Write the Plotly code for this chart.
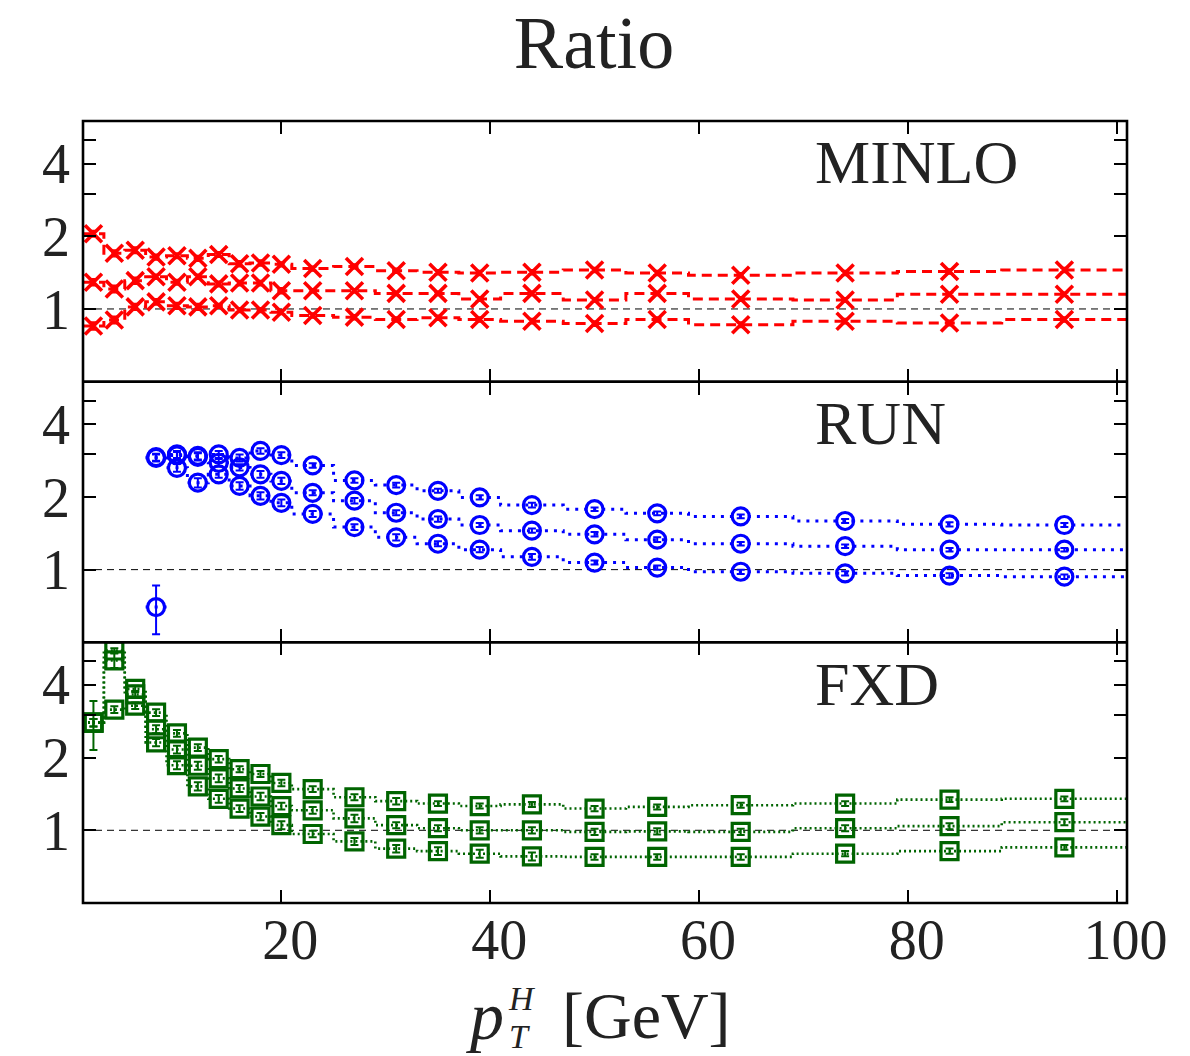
import plotly.graph_objects as go
from plotly.subplots import make_subplots

# ---------------- data ----------------
bin_edges = [1, 3, 5, 7, 9, 11, 13, 15, 17, 19, 21, 25, 29, 33, 37, 41, 47, 53, 59, 69, 79, 89, 101]
bin_centers = [2, 4, 6, 8, 10, 12, 14, 16, 18, 20, 23, 27, 31, 35, 39, 44, 50, 56, 64, 74, 84, 95]

minlo_up = [2.05, 1.70, 1.75, 1.64, 1.66, 1.62, 1.68, 1.54, 1.55, 1.53, 1.47, 1.50, 1.44, 1.42, 1.41, 1.42, 1.45, 1.41, 1.38, 1.41, 1.43, 1.45]
minlo_mid = [1.29, 1.21, 1.31, 1.36, 1.29, 1.36, 1.27, 1.28, 1.28, 1.19, 1.19, 1.19, 1.16, 1.16, 1.10, 1.16, 1.09, 1.16, 1.10, 1.09, 1.15, 1.15]
minlo_low = [0.85, 0.90, 1.02, 1.07, 1.03, 1.02, 1.03, 0.99, 0.99, 0.97, 0.94, 0.925, 0.905, 0.92, 0.905, 0.89, 0.87, 0.905, 0.86, 0.89, 0.875, 0.905]
minlo_err_up = [0.06, 0.05, 0.05, 0.04, 0.04, 0.04, 0.04, 0.04, 0.04, 0.03, 0.03, 0.03, 0.03, 0.03, 0.03, 0.03, 0.03, 0.03, 0.03, 0.03, 0.03, 0.03]
minlo_err_mid = [0.04, 0.04, 0.04, 0.03, 0.03, 0.03, 0.03, 0.03, 0.03, 0.03, 0.02, 0.02, 0.02, 0.02, 0.02, 0.02, 0.02, 0.02, 0.02, 0.02, 0.02, 0.02]
minlo_err_low = [0.03, 0.03, 0.03, 0.03, 0.03, 0.03, 0.02, 0.02, 0.02, 0.02, 0.02, 0.02, 0.02, 0.02, 0.02, 0.02, 0.02, 0.02, 0.02, 0.02, 0.02, 0.02]

run_up = [None, None, None, 2.92, 3.00, 2.96, 3.00, 2.90, 3.10, 2.98, 2.70, 2.34, 2.24, 2.12, 1.99, 1.85, 1.78, 1.71, 1.66, 1.59, 1.54, 1.53]
run_mid = [None, None, None, 2.90, 2.97, 2.93, 2.77, 2.65, 2.48, 2.33, 2.08, 1.93, 1.72, 1.62, 1.53, 1.45, 1.40, 1.33, 1.28, 1.25, 1.21, 1.21]
run_low = [None, None, None, None, 2.64, 2.29, 2.48, 2.22, 2.02, 1.89, 1.70, 1.50, 1.36, 1.28, 1.21, 1.13, 1.07, 1.02, 0.98, 0.965, 0.945, 0.935]
run_err_up = [None, None, None, 0.10, 0.10, 0.10, 0.10, 0.10, 0.08, 0.08, 0.06, 0.05, 0.05, 0.04, 0.04, 0.04, 0.03, 0.03, 0.03, 0.03, 0.03, 0.03]
run_err_mid = [None, None, None, 0.10, 0.10, 0.10, 0.10, 0.08, 0.08, 0.07, 0.05, 0.05, 0.04, 0.04, 0.03, 0.03, 0.03, 0.03, 0.02, 0.02, 0.02, 0.02]
run_err_low = [None, None, None, None, 0.10, 0.10, 0.08, 0.08, 0.07, 0.06, 0.05, 0.04, 0.04, 0.03, 0.03, 0.03, 0.02, 0.02, 0.02, 0.02, 0.02, 0.02]
# isolated low-lying RUN bin (7-9 GeV)
run_iso_edges = [7, 9]
run_iso_center = [8]
run_iso_val = [0.70]
run_iso_err = [0.16]

fxd_up = [2.79, 5.55, 3.85, 3.07, 2.52, 2.20, 1.97, 1.79, 1.71, 1.57, 1.48, 1.37, 1.32, 1.29, 1.26, 1.28, 1.23, 1.25, 1.27, 1.29, 1.34, 1.35]
fxd_mid = [2.79, 5.05, 3.65, 2.62, 2.16, 1.85, 1.64, 1.49, 1.38, 1.26, 1.21, 1.12, 1.05, 1.02, 1.00, 1.00, 0.985, 0.99, 0.985, 1.02, 1.04, 1.08]
fxd_low = [2.79, 3.16, 3.28, 2.31, 1.86, 1.52, 1.35, 1.23, 1.14, 1.05, 0.965, 0.90, 0.84, 0.82, 0.80, 0.78, 0.776, 0.776, 0.776, 0.80, 0.82, 0.85]
fxd_err_up = [0.10, 0.12, 0.12, 0.10, 0.08, 0.07, 0.06, 0.05, 0.05, 0.05, 0.04, 0.04, 0.04, 0.03, 0.03, 0.03, 0.03, 0.03, 0.03, 0.03, 0.03, 0.03]
fxd_err_mid = [0.64, 0.35, 0.12, 0.10, 0.08, 0.07, 0.06, 0.05, 0.05, 0.04, 0.04, 0.04, 0.03, 0.03, 0.03, 0.03, 0.03, 0.03, 0.03, 0.03, 0.03, 0.03]
fxd_err_low = [0.10, 0.10, 0.10, 0.08, 0.07, 0.06, 0.05, 0.04, 0.04, 0.04, 0.03, 0.03, 0.03, 0.03, 0.03, 0.03, 0.02, 0.02, 0.02, 0.02, 0.02, 0.02]

panel_names = ["MINLO", "RUN", "FXD"]
y_tickvals = [1, 2, 3, 4, 5]
y_ticktext = ["1", "2", "", "4", ""]
x_tickvals = [20, 40, 60, 80, 100]
x_ticktext = ["20", "40", "60", "80", "100"]

# ---------------- figure ----------------
FONT = "Liberation Serif"
TXT = "#222222"
fig = make_subplots(rows=3, cols=1, shared_xaxes=True, vertical_spacing=0)

panels = [
    dict(curves=[(bin_edges, bin_centers, minlo_up, minlo_err_up),
                 (bin_edges, bin_centers, minlo_mid, minlo_err_mid),
                 (bin_edges, bin_centers, minlo_low, minlo_err_low)],
         color="#ff0000", dash="10px,6px", lw=3, marker="x-thin", msize=17, mlw=3.6),
    dict(curves=[(bin_edges, bin_centers, run_up, run_err_up),
                 (bin_edges, bin_centers, run_mid, run_err_mid),
                 (bin_edges, bin_centers, run_low, run_err_low),
                 (run_iso_edges, run_iso_center, run_iso_val, run_iso_err)],
         color="#0000ff", dash="3px,6px", lw=3, marker="circle-open", msize=17, mlw=3.2),
    dict(curves=[(bin_edges, bin_centers, fxd_up, fxd_err_up),
                 (bin_edges, bin_centers, fxd_mid, fxd_err_mid),
                 (bin_edges, bin_centers, fxd_low, fxd_err_low)],
         color="#006400", dash="2px,3px", lw=2.6, marker="square-open", msize=17, mlw=3.2),
]

for r, p in enumerate(panels, start=1):
    # reference line at ratio = 1
    fig.add_trace(go.Scatter(x=[bin_edges[0], bin_edges[-1]], y=[1, 1], mode="lines",
                             line=dict(color="black", width=1, dash="7px,5px"),
                             hoverinfo="skip"), row=r, col=1)
    for edges, centers, vals, errs in p["curves"]:
        # histogram step line
        fig.add_trace(go.Scatter(x=edges, y=vals + [vals[-1]], mode="lines",
                                 line=dict(color=p["color"], width=p["lw"], dash=p["dash"], shape="hv"),
                                 connectgaps=False), row=r, col=1)
        # points with error bars
        fig.add_trace(go.Scatter(x=centers, y=vals, mode="markers",
                                 marker=dict(symbol=p["marker"], size=p["msize"], color=p["color"],
                                             line=dict(color=p["color"], width=p["mlw"])),
                                 error_y=dict(type="data", array=errs, visible=True,
                                              color=p["color"], thickness=2, width=4)),
                      row=r, col=1)

axis_common = dict(showline=False, mirror="ticks",
                   ticks="inside", ticklen=13, tickwidth=2, tickcolor="black",
                   showgrid=False, zeroline=False)

for r in range(1, 4):
    fig.update_yaxes(type="log", range=[-0.30103, 0.778151], tickvals=y_tickvals, ticktext=y_ticktext,
                     tickfont=dict(family=FONT, size=56, color=TXT), ticklabelstandoff=12,
                     row=r, col=1, **axis_common)
    fig.update_xaxes(range=[1, 101], tickvals=x_tickvals, ticktext=x_ticktext,
                     tickfont=dict(family=FONT, size=56, color=TXT),
                     ticklabelstandoff=-1, ticklabelshift=9,
                     showticklabels=(r == 3), row=r, col=1, **axis_common)

# panel frames
shapes = [dict(type="rect", xref="paper", yref="paper", x0=0, x1=1, y0=0, y1=1,
               line=dict(color="black", width=2.6), layer="above")]
for yb in (1 / 3, 2 / 3):
    shapes.append(dict(type="line", xref="paper", yref="paper", x0=0, x1=1, y0=yb, y1=yb,
                       line=dict(color="black", width=2.8), layer="above"))

annotations = []
label_y = [0.947, 0.614, 0.28]
for name, yy in zip(panel_names, label_y):
    annotations.append(dict(text=name, xref="paper", yref="paper", x=0.699, y=yy,
                            xanchor="left", yanchor="middle", showarrow=False,
                            font=dict(family=FONT, size=62, color=TXT)))

# axis title p_T^H [GeV]
annotations += [
    dict(text="<i>p</i>", xref="paper", yref="paper", x=(485 - 83) / 1044, y=(903 - 1016) / 782,
         xanchor="center", yanchor="middle", showarrow=False, font=dict(family=FONT, size=68, color=TXT)),
    dict(text="<i>H</i>", xref="paper", yref="paper", x=(522 - 83) / 1044, y=(903 - 999) / 782,
         xanchor="center", yanchor="middle", showarrow=False, font=dict(family=FONT, size=34, color=TXT)),
    dict(text="<i>T</i>", xref="paper", yref="paper", x=(519 - 83) / 1044, y=(903 - 1036) / 782,
         xanchor="center", yanchor="middle", showarrow=False, font=dict(family=FONT, size=34, color=TXT)),
    dict(text="[GeV]", xref="paper", yref="paper", x=(646 - 83) / 1044, y=(903 - 1015) / 782,
         xanchor="center", yanchor="middle", showarrow=False, font=dict(family=FONT, size=66, color=TXT)),
]

fig.update_layout(
    width=1190, height=1056,
    margin=dict(l=83, r=63, t=121, b=153),
    paper_bgcolor="white", plot_bgcolor="white",
    showlegend=False,
    title=dict(text="Ratio", x=594 / 1190, xanchor="center", y=1 - 42 / 1056, yanchor="middle",
               font=dict(family=FONT, size=74, color=TXT)),
    annotations=annotations,
    shapes=shapes,
)

fig.write_html("out.html")
